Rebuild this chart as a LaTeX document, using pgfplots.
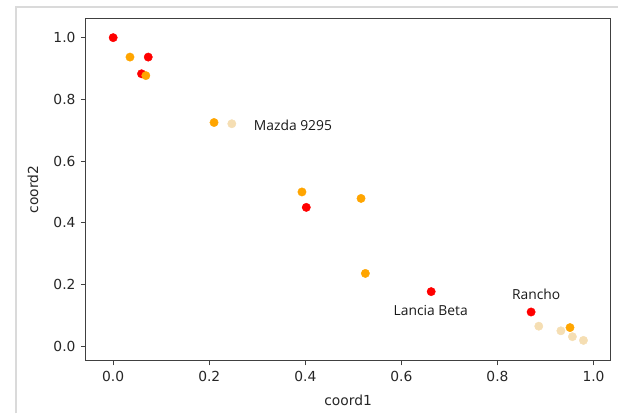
\documentclass[border=0pt]{standalone}
\usepackage{pgfplots}
\pgfplotsset{compat=1.18}
\usepackage{fontspec}
\setmainfont{DejaVu Sans}
\newfontfamily\annfont{Open Sans}
\definecolor{cred}{RGB}{255,0,0}
\definecolor{corange}{RGB}{255,165,0}
\definecolor{cwheat}{RGB}{245,222,179}
\definecolor{framegray}{RGB}{218,218,218}
\begin{document}
\begin{tikzpicture}
\begin{axis}[
  scale only axis,
  width=525bp, height=342bp,
  xmin=-0.0568, xmax=1.0347,
  ymin=-0.0463, ymax=1.0605,
  xtick={0,0.2,0.4,0.6,0.8,1.0},
  ytick={0,0.2,0.4,0.6,0.8,1.0},
  xticklabels={0.0,0.2,0.4,0.6,0.8,1.0},
  yticklabels={0.0,0.2,0.4,0.6,0.8,1.0},
  tick align=outside,
  major tick length=4.9bp,
  tick style={black!75, line width=1bp},
  axis line style={black!75, line width=1bp},
  xtick pos=bottom, ytick pos=left,
  ticklabel style={font=\fontsize{13.9}{16}\selectfont, text=black!85},
  /pgf/number format/assume math mode=true,
  xticklabel style={yshift=-2bp},
  yticklabel style={xshift=-2bp},
  label style={font=\fontsize{13.9}{16}\selectfont, text=black!85},
  xlabel={coord1}, ylabel={coord2},
  xlabel style={at={(axis description cs:0.5,0)}, anchor=center, yshift=-40bp},
  ylabel style={at={([xshift=-53bp]axis description cs:0,0.5)}, anchor=center},
  clip=false,
]
\addplot[only marks, mark=*, mark size=4.2bp, color=cwheat] coordinates {
 (0.247,0.721) (0.886,0.065) (0.932,0.050) (0.956,0.031) (0.979,0.019)
};
\addplot[only marks, mark=*, mark size=4.2bp, color=cred] coordinates {
 (0.000,1.000) (0.073,0.937) (0.059,0.883) (0.402,0.450) (0.662,0.177) (0.870,0.111)
};
\addplot[only marks, mark=*, mark size=4.2bp, color=corange] coordinates {
 (0.035,0.937) (0.068,0.877) (0.210,0.725) (0.393,0.500) (0.516,0.479) (0.525,0.236) (0.951,0.0605)
};
\node[anchor=base west, inner sep=0pt, font=\annfont\fontsize{13.9}{16}\selectfont, text=black!90] at (axis cs:0.2925,0.698) {Mazda 9295};
\node[anchor=base west, inner sep=0pt, font=\annfont\fontsize{13.9}{16}\selectfont, text=black!90] at (axis cs:0.5836,0.0994) {Lancia Beta};
\node[anchor=base west, inner sep=0pt, font=\annfont\fontsize{13.9}{16}\selectfont, text=black!90] at (axis cs:0.830,0.153) {Rancho};
\end{axis}
\draw[framegray, line width=1.6bp] ([xshift=-70bp,yshift=-53bp]current axis.south west) -- ([xshift=-70bp,yshift=12bp]current axis.north west) -- ([xshift=8bp,yshift=12bp]current axis.north east);
\useasboundingbox ([xshift=-86bp,yshift=-53bp]current axis.south west) rectangle ([xshift=8bp,yshift=19bp]current axis.north east);
\end{tikzpicture}
\end{document}
